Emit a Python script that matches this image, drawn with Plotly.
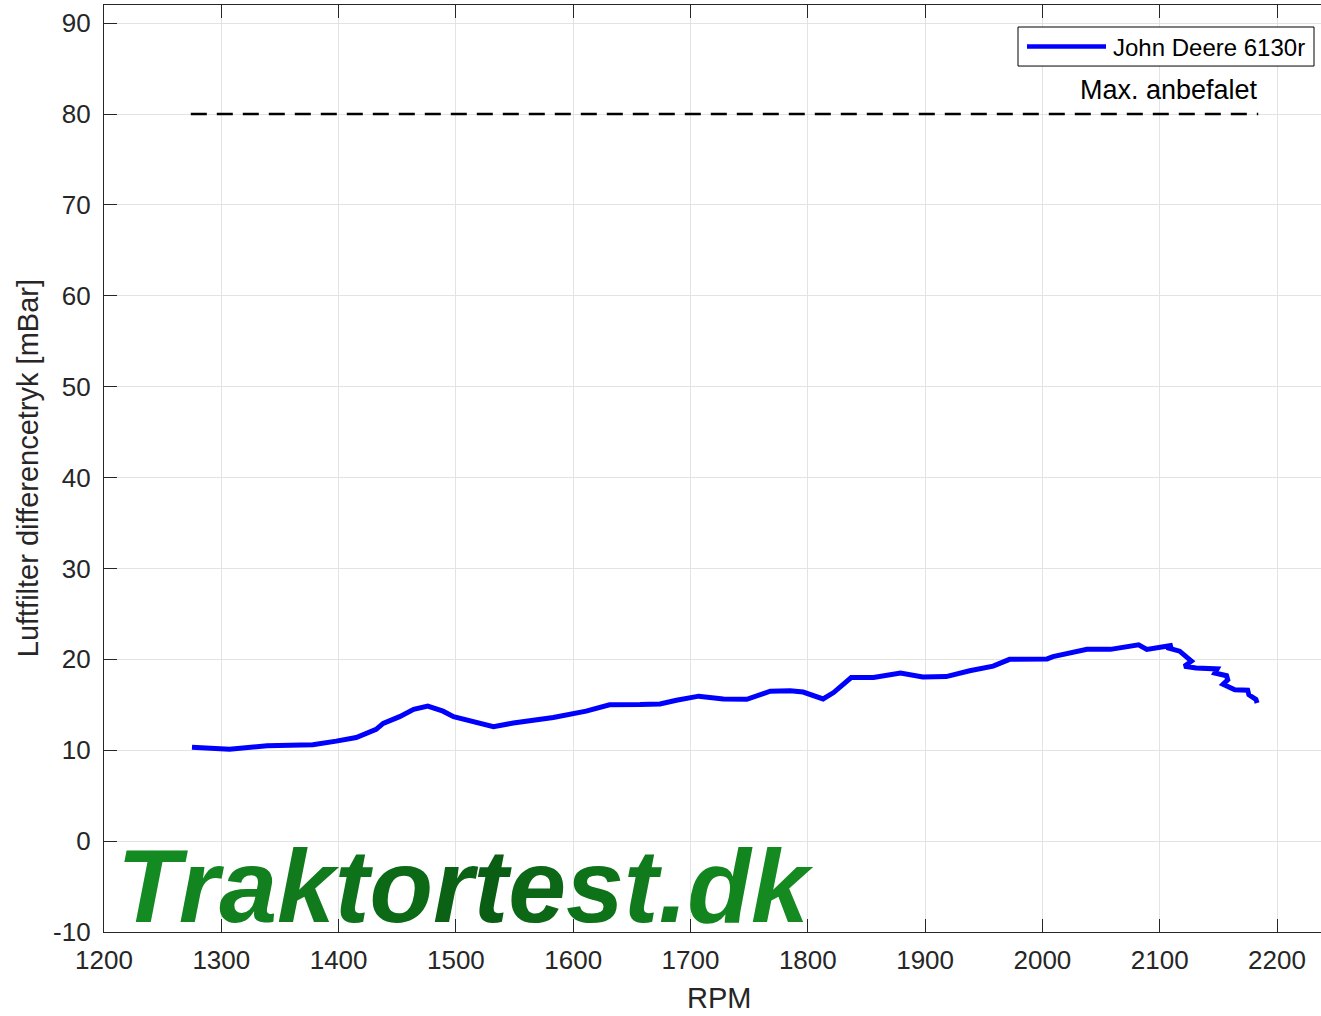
import plotly.graph_objects as go

# ---- data ----
rpm = [1275, 1307, 1339, 1378, 1398, 1415, 1432, 1438, 1452, 1464, 1476, 1489, 1498, 1512,
       1532, 1549, 1583, 1611, 1631, 1657, 1674, 1688, 1707, 1728, 1748, 1768, 1785, 1796,
       1813, 1822, 1837, 1856, 1879, 1898, 1918, 1938, 1958, 1972, 2004, 2009, 2024, 2038,
       2058, 2066, 2082, 2089, 2105, 2111, 2106, 2117, 2127, 2121, 2131, 2140, 2149, 2147,
       2157, 2158, 2154, 2164, 2175, 2176, 2182, 2183]
pressure = [10.34, 10.1, 10.5, 10.6, 11.0, 11.4, 12.3, 12.95, 13.7, 14.5, 14.85, 14.3, 13.7, 13.2,
            12.6, 13.0, 13.6, 14.3, 15.0, 15.03, 15.1, 15.5, 15.95, 15.65, 15.6, 16.5, 16.55, 16.4,
            15.65, 16.35, 18.0, 18.0, 18.5, 18.05, 18.1, 18.75, 19.25, 20.0, 20.05, 20.3, 20.65, 21.1,
            21.1, 21.3, 21.6, 21.1, 21.35, 21.55, 21.3, 20.9, 19.8, 19.25, 19.05, 19.05, 18.95, 18.5,
            18.2, 17.75, 17.25, 16.65, 16.6, 16.1, 15.6, 15.2]
series_name = "John Deere 6130r"

limit_rpm = [1274, 2184]
limit_val = [80, 80]
limit_label = "Max. anbefalet"

x_ticks = [1200, 1300, 1400, 1500, 1600, 1700, 1800, 1900, 2000, 2100, 2200]
y_ticks = [-10, 0, 10, 20, 30, 40, 50, 60, 70, 80, 90]
y_ticklabels = ["-10", "0", "10", "20", "30", "40", "50", "60", "70", "80", "90"]

watermark = "Traktortest.dk"
wm_colors = ["#148a23", "#138520", "#12801f", "#107a1d", "#0e721a", "#0c6a17", "#0b6214",
             "#0a5e13", "#0c6816", "#0e7219", "#107a1c", "#117e1e", "#13851f", "#148a21"]

AX = "#262626"
FONT = "Liberation Sans, Arial, sans-serif"

fig = go.Figure()
fig.add_trace(go.Scatter(x=limit_rpm, y=limit_val, mode="lines",
                         line=dict(color="black", width=2.5, dash="16px,10px"),
                         showlegend=False, hoverinfo="skip"))
fig.add_trace(go.Scatter(x=rpm, y=pressure, mode="lines", name=series_name,
                         line=dict(color="#0000ff", width=5), showlegend=False))

axis_common = dict(showgrid=True, gridcolor="#e3e3e3", gridwidth=1,
                   showline=True, linecolor=AX, linewidth=1.2,
                   ticks="inside", ticklen=13, tickwidth=1.2, tickcolor=AX,
                   tickfont=dict(family=FONT, size=26, color=AX), zeroline=False)

fig.update_xaxes(range=[1200, 2237.5], tickvals=x_ticks, ticklabelstandoff=5,
                 mirror="ticks", **axis_common)
fig.update_yaxes(range=[-10, 92], tickvals=y_ticks, ticktext=y_ticklabels,
                 ticklabelstandoff=7, mirror=False, **axis_common)

wm_text = "".join(f'<span style="color:{c}">{ch}</span>' for ch, c in zip(watermark, wm_colors))


def px_x(p):
    return (p - 104) / 1217


def px_y(p):
    return (931.5 - p) / 926.5


annotations = [
    dict(text="Luftfilter differencetryk [mBar]", xref="paper", yref="paper",
         x=px_x(28), y=px_y(468), textangle=-90, showarrow=False,
         font=dict(family=FONT, size=29, color=AX), xanchor="center", yanchor="middle"),
    dict(text="RPM", xref="paper", yref="paper", x=px_x(719), y=px_y(997), showarrow=False,
         font=dict(family=FONT, size=29, color=AX), xanchor="center", yanchor="middle"),
    dict(text=limit_label, x=2108, y=82.7, xref="x", yref="y", showarrow=False,
         font=dict(family=FONT, size=27, color="black"), xanchor="center", yanchor="middle"),
    dict(text=f"<b><i>{wm_text}</i></b>", xref="paper", yref="paper", x=px_x(115), y=px_y(886),
         showarrow=False, font=dict(family=FONT, size=104), xanchor="left", yanchor="middle"),
    dict(text=series_name, xref="paper", yref="paper", x=px_x(1111),
         y=px_y(47), showarrow=False,
         font=dict(family=FONT, size=24, color="black"), xanchor="left", yanchor="middle"),
]

shapes = [
    dict(type="rect", xref="paper", yref="paper", x0=px_x(1018), x1=px_x(1314),
         y0=px_y(66), y1=px_y(27), line=dict(color="black", width=1), fillcolor="white",
         layer="above"),
    dict(type="line", xref="paper", yref="paper", x0=px_x(1027), x1=px_x(1106),
         y0=px_y(46.5), y1=px_y(46.5), line=dict(color="#0000ff", width=4.5), layer="above"),
]

fig.update_layout(width=1321, height=1016, margin=dict(l=104, r=0, t=5, b=84),
                  plot_bgcolor="white", paper_bgcolor="white",
                  annotations=annotations, shapes=shapes, showlegend=False,
                  font=dict(family=FONT, color=AX))

fig.write_html("out.html", config={"displayModeBar": False},
               post_script="document.body.style.margin='0';document.body.style.overflow='hidden';")
